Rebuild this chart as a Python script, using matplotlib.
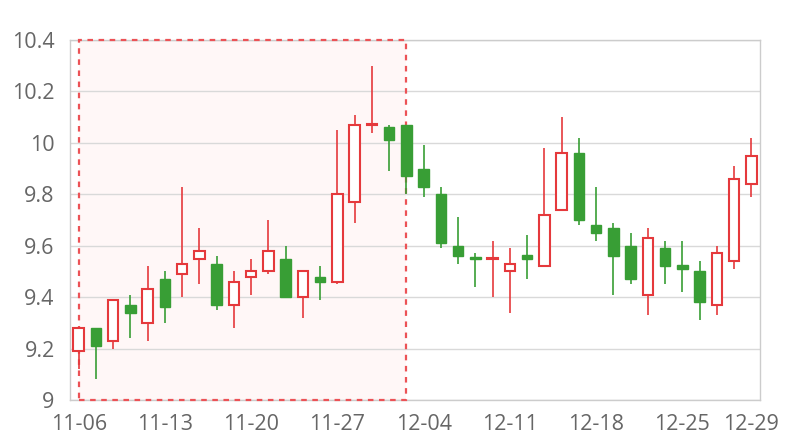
import matplotlib
matplotlib.use("Agg")
import matplotlib.pyplot as plt
from matplotlib.patches import Rectangle

# trading days 2023-11-06 .. 2023-12-29
dates = ["11-06", "11-07", "11-08", "11-09", "11-10",
         "11-13", "11-14", "11-15", "11-16", "11-17",
         "11-20", "11-21", "11-22", "11-23", "11-24",
         "11-27", "11-28", "11-29", "11-30", "12-01",
         "12-04", "12-05", "12-06", "12-07", "12-08",
         "12-11", "12-12", "12-13", "12-14", "12-15",
         "12-18", "12-19", "12-20", "12-21", "12-22",
         "12-25", "12-26", "12-27", "12-28", "12-29"]

opens = [9.19, 9.28, 9.23, 9.37, 9.30, 9.47, 9.49, 9.55, 9.53, 9.37,
         9.48, 9.50, 9.55, 9.40, 9.48, 9.46, 9.77, 10.07, 10.06, 10.07,
         9.90, 9.80, 9.60, 9.556, 9.55, 9.50, 9.565, 9.52, 9.74, 9.96,
         9.68, 9.67, 9.60, 9.41, 9.59, 9.525, 9.50, 9.37, 9.54, 9.84]
closes = [9.28, 9.21, 9.39, 9.34, 9.43, 9.36, 9.53, 9.58, 9.37, 9.46,
          9.50, 9.58, 9.40, 9.50, 9.46, 9.80, 10.07, 10.07, 10.01, 9.87,
          9.83, 9.61, 9.56, 9.55, 9.55, 9.53, 9.55, 9.72, 9.96, 9.70,
          9.65, 9.56, 9.47, 9.63, 9.52, 9.51, 9.38, 9.57, 9.86, 9.95]
lows = [9.12, 9.08, 9.20, 9.24, 9.23, 9.30, 9.40, 9.45, 9.35, 9.28,
        9.41, 9.49, 9.40, 9.32, 9.39, 9.45, 9.69, 10.04, 9.89, 9.80,
        9.79, 9.59, 9.53, 9.44, 9.40, 9.34, 9.47, 9.52, 9.74, 9.68,
        9.62, 9.41, 9.45, 9.33, 9.45, 9.42, 9.31, 9.33, 9.51, 9.79]
highs = [9.28, 9.28, 9.39, 9.41, 9.52, 9.50, 9.83, 9.67, 9.56, 9.50,
         9.55, 9.70, 9.60, 9.50, 9.52, 10.05, 10.11, 10.30, 10.07, 10.07,
         9.99, 9.83, 9.71, 9.57, 9.62, 9.59, 9.64, 9.98, 10.10, 10.02,
         9.83, 9.69, 9.65, 9.67, 9.62, 9.62, 9.54, 9.60, 9.91, 10.02]

# highlighted range (markArea)
area_start, area_end = "11-06", "12-01"

label_dates = ["11-06", "11-13", "11-20", "11-27", "12-04",
               "12-11", "12-18", "12-25", "12-29"]
y_ticks = [9, 9.2, 9.4, 9.6, 9.8, 10, 10.2, 10.4]

RED = "#e5393c"
GREEN = "#389e35"
TEXT = "#666666"

plt.rcParams["font.family"] = ["Open Sans", "DejaVu Sans"]

fig = plt.figure(figsize=(8, 4.4), dpi=100)
ax = fig.add_axes([70 / 800, 40 / 440, 690 / 800, 360 / 440])

# mark area: fill at the back, dashed border above spines but under candles
x0 = dates.index(area_start)
x1 = dates.index(area_end)
ax.add_patch(Rectangle((x0, 9), x1 - x0, 1.4, facecolor="#fff7f7",
                       edgecolor="none", zorder=0))
ax.add_patch(Rectangle((x0, 9), x1 - x0, 1.4, facecolor="none",
                       edgecolor="#ec5256", linewidth=1.6,
                       linestyle=(0, (2.5, 2.5)), zorder=2.7, clip_on=False))

width = 0.62
for i, (o, c, lo, hi) in enumerate(zip(opens, closes, lows, highs)):
    up = c >= o
    color = RED if up else GREEN
    top, bot = max(o, c), min(o, c)
    ax.vlines(i, lo, bot, color=color, linewidth=1.2, zorder=2.8)
    ax.vlines(i, top, hi, color=color, linewidth=1.2, zorder=2.8)
    h = max(top - bot, 0.002)
    if up:
        ax.bar(i, h, width=width, bottom=bot, facecolor="white",
               edgecolor=color, linewidth=1.5, zorder=3)
    else:
        ax.bar(i, h, width=width, bottom=bot, facecolor=color,
               edgecolor=color, linewidth=1.0, zorder=3)

ax.set_xlim(-0.5, len(dates) - 0.5)
ax.set_ylim(9, 10.4)
ax.set_yticks(y_ticks)
ax.set_yticklabels(["%g" % v for v in y_ticks])
ax.set_xticks([dates.index(d) for d in label_dates])
ax.set_xticklabels(label_dates)
ax.tick_params(axis="both", length=0, labelsize=15.5, colors=TEXT)
ax.tick_params(axis="y", pad=11)
ax.tick_params(axis="x", pad=10)

ax.grid(axis="y", color="#d9d9d9", linewidth=1)
ax.set_axisbelow(True)
for s in ax.spines.values():
    s.set_color("#cccccc")
    s.set_linewidth(1)

fig.savefig("out.png", dpi=100)
